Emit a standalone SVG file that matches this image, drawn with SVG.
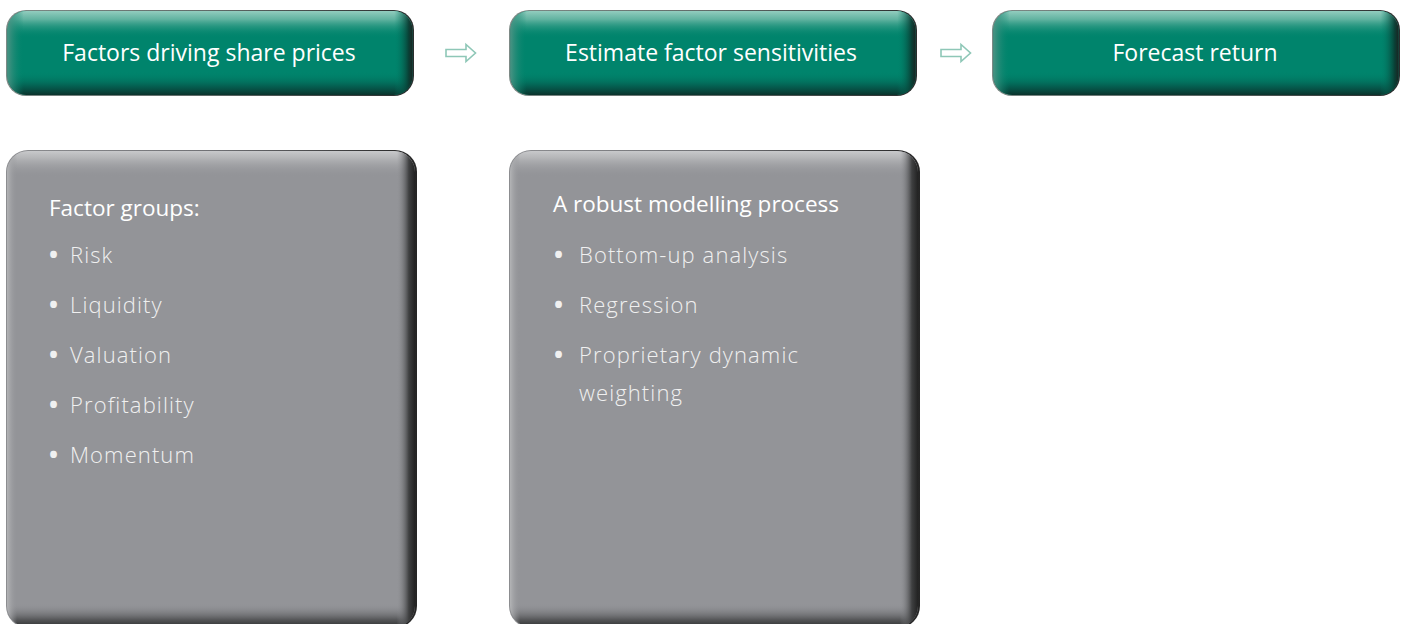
<svg xmlns="http://www.w3.org/2000/svg" width="1405" height="624" viewBox="0 0 1405 624">
  <style>
    .title { font-family: "Open Sans", "Noto Sans", sans-serif; font-size: 23px; fill: #ffffff; text-anchor: middle; }
    .head { font-family: "Open Sans", "Noto Sans", sans-serif; font-size: 22.5px; fill: #ffffff; }
    .item { font-family: "Open Sans", "Noto Sans", sans-serif; font-size: 22px; font-weight: 300; fill: #f0f0f0; letter-spacing: 1.1px; }
    .dot { font-family: "Open Sans", "Noto Sans", sans-serif; font-size: 24px; font-weight: 700; fill: #f0f0f0; }
    .arrow { fill: none; stroke: #8ec7b7; stroke-width: 1.6; stroke-linejoin: miter; }
  </style>
  <defs>
    <!-- green step boxes -->
    <linearGradient id="gRim" x1="0" y1="0" x2="1" y2="0">
      <stop offset="0" stop-color="#7d8a86"/>
      <stop offset="0.5" stop-color="#5f6a67"/>
      <stop offset="1" stop-color="#2a2d2d"/>
    </linearGradient>
    <linearGradient id="gV" x1="0" y1="0" x2="0" y2="1">
      <stop offset="0" stop-color="#93cdbf" stop-opacity="1"/>
      <stop offset="0.1" stop-color="#6cb8a6" stop-opacity="0.9"/>
      <stop offset="0.32" stop-color="#00846c" stop-opacity="0"/>
      <stop offset="0.72" stop-color="#00846c" stop-opacity="0"/>
      <stop offset="0.9" stop-color="#05564a" stop-opacity="0.85"/>
      <stop offset="1" stop-color="#0b332c" stop-opacity="1"/>
    </linearGradient>
    <linearGradient id="gH" x1="0" y1="0" x2="1" y2="0">
      <stop offset="0" stop-color="#4d9384" stop-opacity="0.95"/>
      <stop offset="0.04" stop-color="#00846c" stop-opacity="0"/>
      <stop offset="0.955" stop-color="#00846c" stop-opacity="0"/>
      <stop offset="0.99" stop-color="#0a3a31" stop-opacity="0.9"/>
      <stop offset="1" stop-color="#1a2422" stop-opacity="1"/>
    </linearGradient>
    <!-- grey detail panels -->
    <linearGradient id="pRim" x1="0" y1="0" x2="1" y2="0">
      <stop offset="0" stop-color="#8c8d90"/>
      <stop offset="0.5" stop-color="#707175"/>
      <stop offset="1" stop-color="#252525"/>
    </linearGradient>
    <linearGradient id="pV" x1="0" y1="0" x2="0" y2="1">
      <stop offset="0" stop-color="#c8c9cb" stop-opacity="1"/>
      <stop offset="0.014" stop-color="#b9babc" stop-opacity="0.9"/>
      <stop offset="0.055" stop-color="#939498" stop-opacity="0"/>
      <stop offset="0.95" stop-color="#939498" stop-opacity="0"/>
      <stop offset="0.985" stop-color="#4d4e50" stop-opacity="0.9"/>
      <stop offset="1" stop-color="#2e2f30" stop-opacity="1"/>
    </linearGradient>
    <linearGradient id="pH" x1="0" y1="0" x2="1" y2="0">
      <stop offset="0" stop-color="#b3b4b6" stop-opacity="1"/>
      <stop offset="0.025" stop-color="#939498" stop-opacity="0"/>
      <stop offset="0.955" stop-color="#939498" stop-opacity="0"/>
      <stop offset="0.985" stop-color="#3a3b3c" stop-opacity="0.95"/>
      <stop offset="1" stop-color="#222222" stop-opacity="1"/>
    </linearGradient>
  </defs>

  <!-- top row: process steps -->
  <g id="step-factors">
    <rect x="6" y="10" width="408" height="86" rx="20" fill="url(#gRim)"/>
    <rect x="7.5" y="11" width="405" height="84" rx="19" fill="#00846c"/>
    <rect x="7.5" y="11" width="405" height="84" rx="19" fill="url(#gV)"/>
    <rect x="7.5" y="11" width="405" height="84" rx="19" fill="url(#gH)"/>
    <text class="title" x="209" y="61">Factors driving share prices</text>
  </g>
  <g id="step-sensitivities">
    <rect x="509" y="10" width="408" height="86" rx="20" fill="url(#gRim)"/>
    <rect x="510.5" y="11" width="405" height="84" rx="19" fill="#00846c"/>
    <rect x="510.5" y="11" width="405" height="84" rx="19" fill="url(#gV)"/>
    <rect x="510.5" y="11" width="405" height="84" rx="19" fill="url(#gH)"/>
    <text class="title" x="711" y="61">Estimate factor sensitivities</text>
  </g>
  <g id="step-forecast">
    <rect x="992" y="10" width="408" height="86" rx="20" fill="url(#gRim)"/>
    <rect x="993.5" y="11" width="405" height="84" rx="19" fill="#00846c"/>
    <rect x="993.5" y="11" width="405" height="84" rx="19" fill="url(#gV)"/>
    <rect x="993.5" y="11" width="405" height="84" rx="19" fill="url(#gH)"/>
    <text class="title" x="1195" y="61">Forecast return</text>
  </g>

  <!-- arrows between steps -->
  <g id="connectors">
    <path class="arrow" d="M446,49.5 H466 V44.5 L475.5,53 L466,61.5 V56.5 H446 Z"/>
    <path class="arrow" d="M941,49.5 H961 V44.5 L970.5,53 L961,61.5 V56.5 H941 Z"/>
  </g>

  <!-- detail panels -->
  <g id="panel-factor-groups">
    <rect x="6" y="150" width="411" height="478" rx="22" fill="url(#pRim)"/>
    <rect x="7" y="151" width="408" height="476" rx="21" fill="#939498"/>
    <rect x="7" y="151" width="408" height="476" rx="21" fill="url(#pV)"/>
    <rect x="7" y="151" width="408" height="476" rx="21" fill="url(#pH)"/>
    <text class="head" x="49" y="216">Factor groups:</text>
    <text class="dot" x="49" y="263">•</text><text class="item" x="70" y="263">Risk</text>
    <text class="dot" x="49" y="313">•</text><text class="item" x="70" y="313">Liquidity</text>
    <text class="dot" x="49" y="363">•</text><text class="item" x="70" y="363">Valuation</text>
    <text class="dot" x="49" y="413">•</text><text class="item" x="70" y="413">Profitability</text>
    <text class="dot" x="49" y="463">•</text><text class="item" x="70" y="463">Momentum</text>
  </g>
  <g id="panel-modelling">
    <rect x="509" y="150" width="411" height="478" rx="22" fill="url(#pRim)"/>
    <rect x="510" y="151" width="408" height="476" rx="21" fill="#939498"/>
    <rect x="510" y="151" width="408" height="476" rx="21" fill="url(#pV)"/>
    <rect x="510" y="151" width="408" height="476" rx="21" fill="url(#pH)"/>
    <text class="head" x="553" y="212">A robust modelling process</text>
    <text class="dot" x="554" y="263">•</text><text class="item" x="579" y="263">Bottom-up analysis</text>
    <text class="dot" x="554" y="313">•</text><text class="item" x="579" y="313">Regression</text>
    <text class="dot" x="554" y="363">•</text><text class="item" x="579" y="363">Proprietary dynamic</text>
    <text class="item" x="579" y="401">weighting</text>
  </g>
</svg>
